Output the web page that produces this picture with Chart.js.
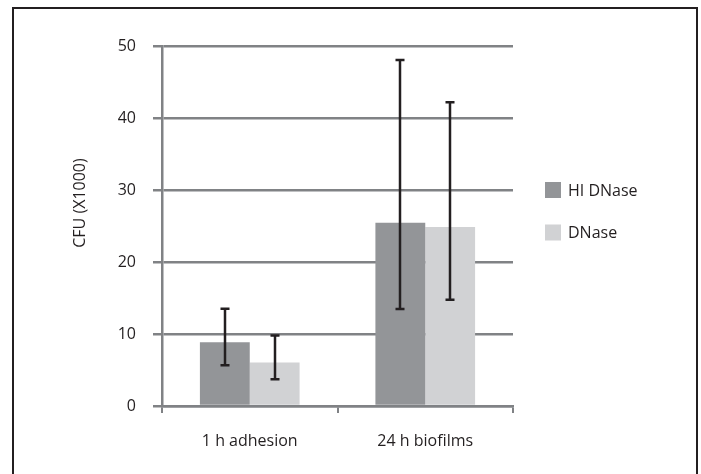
<!DOCTYPE html>
<html><head><meta charset="utf-8">
<script src="https://cdn.jsdelivr.net/npm/chart.js@4/dist/chart.umd.min.js"></script>
<style>html,body{margin:0;padding:0;background:#fff;}#wrap{width:701px;height:474px;position:relative;}</style>
</head><body><div id="wrap"><canvas id="c" width="701" height="474"></canvas></div>
<script>
const categories = ["1 h adhesion", "24 h biofilms"];
const seriesNames = ["HI DNase", "DNase"];
const hiDNase = [8.85, 25.45];
const dnase = [6.05, 24.85];
const hiDNaseErrLow = [5.67, 13.47];
const hiDNaseErrHigh = [13.5, 48.05];
const dnaseErrLow = [3.7, 14.75];
const dnaseErrHigh = [9.8, 42.2];
const yTicks = [0, 10, 20, 30, 40, 50];
const yTitle = "CFU (X1000)";

const colors = ["#939598", "#d1d2d4"];
const ink = "#231f20";
const gridCol = "#808285";
const FONT = "'Open Sans', sans-serif";

const errs = [[hiDNaseErrLow, hiDNaseErrHigh],[dnaseErrLow, dnaseErrHigh]];

const framePlugin = {
  id:'frame',
  beforeDraw(chart){
    const ctx = chart.ctx;
    ctx.save();
    ctx.fillStyle='#fff';ctx.fillRect(0,0,chart.width,chart.height);
    ctx.strokeStyle=ink;ctx.lineWidth=2;
    ctx.beginPath();
    ctx.moveTo(13,480);ctx.lineTo(13,8);ctx.lineTo(697,8);ctx.lineTo(697,480);
    ctx.stroke();
    ctx.restore();
  }
};

const errPlugin = {
  id:'errbars',
  afterDatasetsDraw(chart){
    const ctx = chart.ctx, ys = chart.scales.y;
    ctx.save();
    ctx.strokeStyle = ink;
    chart.data.datasets.forEach((ds, di)=>{
      const meta = chart.getDatasetMeta(di);
      meta.data.forEach((bar, i)=>{
        const lo = ys.getPixelForValue(errs[di][0][i]);
        const hi = ys.getPixelForValue(errs[di][1][i]);
        const x = Math.round(bar.x);
        ctx.lineWidth = 2.5;
        ctx.beginPath(); ctx.moveTo(x, lo); ctx.lineTo(x, hi); ctx.stroke();
        ctx.beginPath();
        ctx.moveTo(x-4.5, hi); ctx.lineTo(x+4.5, hi);
        ctx.moveTo(x-4.5, lo); ctx.lineTo(x+4.5, lo);
        ctx.stroke();
      });
    });
    ctx.restore();
  }
};

const legendPlugin = {
  id:'customLegend',
  afterDraw(chart){
    const ctx = chart.ctx, ca = chart.chartArea;
    ctx.save();
    ctx.font = "16px " + FONT;
    ctx.textBaseline = 'middle';
    chart.data.datasets.forEach((ds, di)=>{
      const cy = 190 + di*42.5;
      const x0 = ca.right + 32;
      ctx.fillStyle = ds.backgroundColor;
      ctx.fillRect(x0, cy-8, 16, 16);
      ctx.fillStyle = ink;
      ctx.fillText(ds.label, x0 + 23, cy+1);
    });
    // y-axis title (placed above the plot centre as in the reference)
    ctx.translate(80, 203);
    ctx.rotate(-Math.PI/2);
    ctx.textAlign = 'center';
    ctx.fillText(yTitle, 0, 0);
    ctx.restore();
  }
};

new Chart(document.getElementById('c'), {
  type:'bar',
  data:{
    labels: categories,
    datasets:[
      {label: seriesNames[0], data: hiDNase, backgroundColor: colors[0]},
      {label: seriesNames[1], data: dnase, backgroundColor: colors[1]}
    ]
  },
  options:{
    responsive:false,
    animation:false,
    devicePixelRatio:1,
    categoryPercentage:0.568,
    barPercentage:1,
    layout:{padding:{left:58, top:46, right:188, bottom:24}},
    plugins:{legend:{display:false}, tooltip:{enabled:false}},
    scales:{
      x:{
        offset:true,
        grid:{display:true, drawOnChartArea:false, drawTicks:true, tickLength:7, color:gridCol, lineWidth:2, offset:true},
        border:{display:true, color:gridCol, width:2.5},
        ticks:{color:ink, font:{family:FONT, size:16}, padding:19},
        afterFit(s){ s.height = 44; }
      },
      y:{
        min:0, max:50,
        afterBuildTicks(s){ s.ticks = yTicks.map(v=>({value:v})); },
        grid:{color:gridCol, lineWidth:2.5, tickLength:9, drawTicks:true},
        border:{display:true, color:gridCol, width:2.5},
        ticks:{color:ink, font:{family:FONT, size:16}, padding:17},
        afterFit(s){ s.width = 162 - 58; }
      }
    }
  },
  plugins:[framePlugin, errPlugin, legendPlugin]
});
</script></body></html>
